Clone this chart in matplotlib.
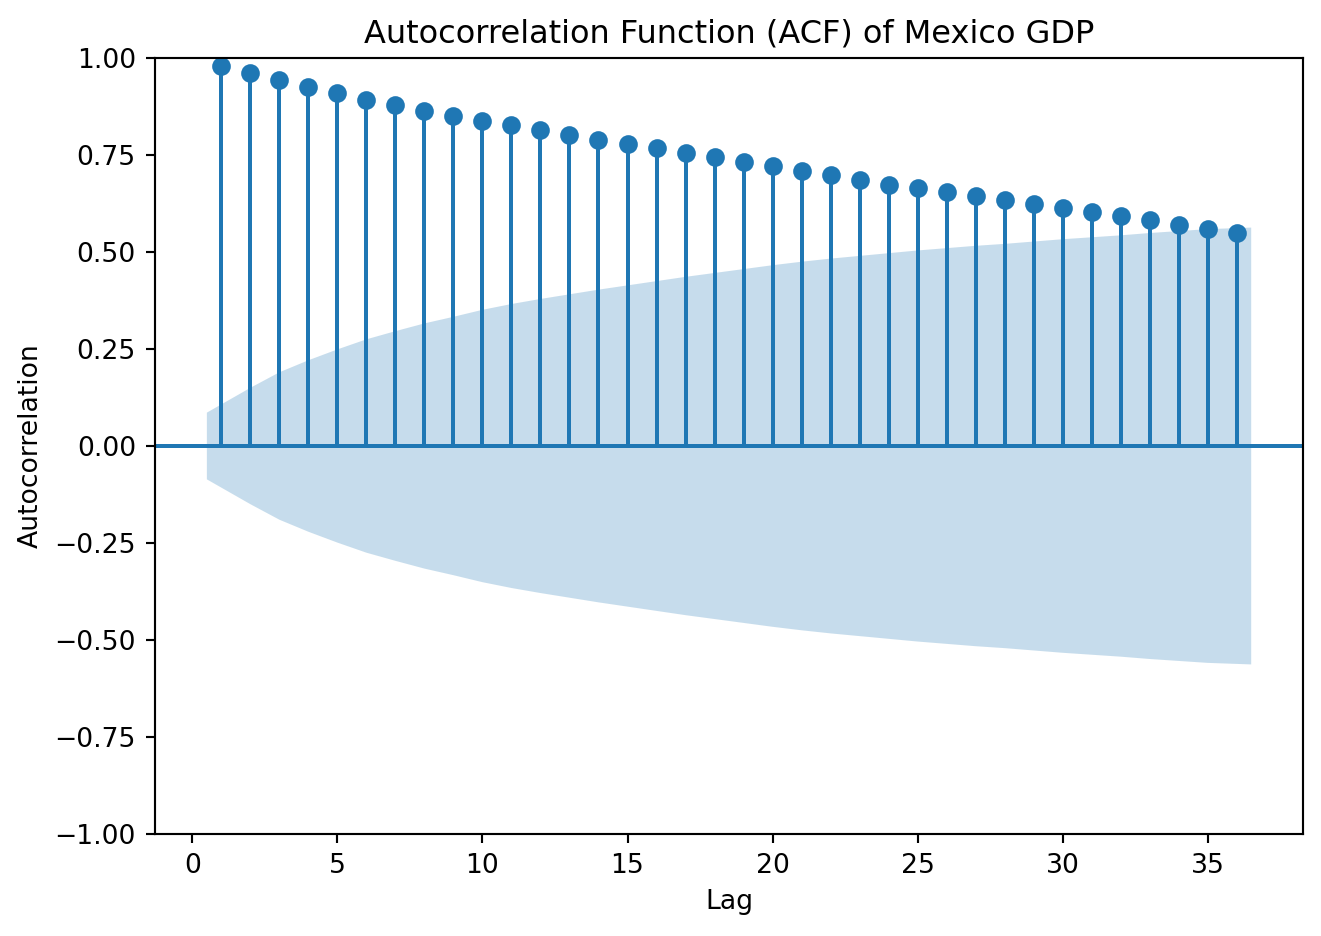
import numpy as np
import matplotlib.pyplot as plt

# ACF values (lags 1..36, zero lag not shown)
lags = np.arange(1, 37)
acf_vals = [0.979, 0.962, 0.943, 0.925, 0.909, 0.891, 0.879, 0.863, 0.850, 0.837,
            0.827, 0.814, 0.802, 0.790, 0.778, 0.767, 0.755, 0.745, 0.732, 0.721,
            0.709, 0.698, 0.686, 0.672, 0.665, 0.655, 0.644, 0.634, 0.624, 0.613,
            0.603, 0.593, 0.582, 0.570, 0.560, 0.549]
# half width of the 95% confidence band at each lag
conf_band = [0.086, 0.150, 0.190, 0.221, 0.249, 0.275, 0.296, 0.316, 0.333, 0.351,
             0.366, 0.379, 0.391, 0.403, 0.414, 0.425, 0.436, 0.446, 0.456, 0.466,
             0.475, 0.483, 0.490, 0.497, 0.504, 0.510, 0.516, 0.521, 0.527, 0.533,
             0.538, 0.543, 0.549, 0.554, 0.559, 0.563]

fig, ax = plt.subplots(figsize=(6.885, 4.875), dpi=192)
fig.subplots_adjust(left=0.117, right=0.986, top=0.938, bottom=0.109)

ax.vlines(lags, 0, acf_vals, color="C0")
ax.axhline(0, color="C0")
ax.plot(lags, acf_vals, marker="o", markersize=6, linestyle="None", color="C0")

band_x = lags.astype(float)
band_x[0] -= 0.5
band_x[-1] += 0.5
band = np.array(conf_band)
ax.fill_between(band_x, -band, band, alpha=0.25, linewidth=0)

ax.margins(0.05)
ax.set_ylim(-1, 1)
ax.set_title("Autocorrelation Function (ACF) of Mexico GDP")
ax.set_xlabel("Lag")
ax.set_ylabel("Autocorrelation")

fig.savefig("out.png", dpi=192)
